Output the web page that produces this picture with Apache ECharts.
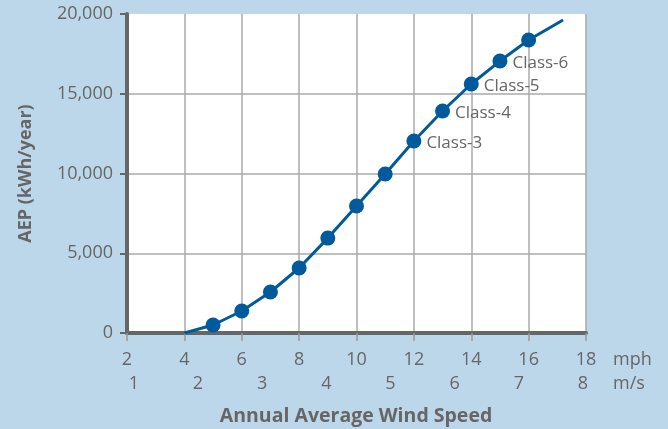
<!DOCTYPE html>
<html>
<head>
<meta charset="utf-8">
<script src="https://cdn.jsdelivr.net/npm/echarts@6/dist/echarts.min.js"></script>
<style>
html,body{margin:0;padding:0;background:#BDD7EA;}
#c{width:668px;height:429px;}
</style>
</head>
<body>
<div id="c"></div>
<script>
// Data
var speedsMph = [4, 5, 6, 7, 8, 9, 10, 11, 12, 13, 14, 15, 16, 17.2];
var aepValues = [0, 500, 1380, 2570, 4075, 5950, 7960, 9970, 12040, 13920, 15610, 17050, 18370, 19620];
var classNames = [null, null, null, null, null, null, null, null, 'Class-3', 'Class-4', 'Class-5', 'Class-6', null, null];
var hasMarker = [false, true, true, true, true, true, true, true, true, true, true, true, true, false];
var mphTicks = [2, 18, 2];           // min, max, interval
var msLabels = [1, 2, 3, 4, 5, 6, 7, 8];
var MPH_PER_MS = 2.23694;

var FONT = '"Open Sans", sans-serif';
var TXT = '#666666';
var LINE = '#005A9B';

var seriesData = speedsMph.map(function (x, i) {
  var d = { value: [x, aepValues[i]] };
  if (!hasMarker[i]) d.symbol = 'none';
  if (classNames[i]) {
    d.label = { show: true, formatter: classNames[i] };
  }
  return d;
});

var chart = echarts.init(document.getElementById('c'), null, { renderer: 'canvas' });
chart.setOption({
  backgroundColor: '#BDD7EA',
  animation: false,
  title: {
    text: 'Annual Average Wind Speed',
    left: 351,
    top: 401,
    textAlign: 'center',
    textStyle: { fontFamily: FONT, fontWeight: 'bold', fontSize: 19.5, color: TXT }
  },
  grid: {
    left: 127, right: 82, top: 14, bottom: 96,
    show: true, backgroundColor: '#ffffff', borderWidth: 0
  },
  xAxis: [
    {
      type: 'value',
      min: mphTicks[0], max: mphTicks[1], interval: mphTicks[2],
      position: 'bottom',
      name: 'mph',
      nameLocation: 'end',
      nameGap: 27,
      nameTextStyle: { fontFamily: FONT, fontSize: 18, color: TXT, verticalAlign: 'top', padding: [18, 0, 0, 0] },
      axisLine: { show: true, onZero: false, lineStyle: { color: '#666666', width: 4 } },
      axisTick: { show: true, length: 8, lineStyle: { color: '#999999', width: 1.5 } },
      axisLabel: { margin: 18, fontFamily: FONT, fontSize: 18, color: TXT },
      splitLine: { show: true, lineStyle: { color: '#aaaaaa', width: 1.5 } }
    },
    {
      type: 'value',
      min: mphTicks[0] / MPH_PER_MS, max: mphTicks[1] / MPH_PER_MS,
      position: 'bottom',
      name: 'm/s',
      nameLocation: 'end',
      nameGap: 27,
      nameTextStyle: { fontFamily: FONT, fontSize: 18, color: TXT, verticalAlign: 'top', padding: [42, 0, 0, 0] },
      axisLine: { show: false },
      axisTick: { show: false },
      axisLabel: { margin: 42, fontFamily: FONT, fontSize: 18, color: TXT, customValues: msLabels },
      splitLine: { show: false }
    }
  ],
  yAxis: {
    type: 'value',
    min: 0, max: 20000, interval: 5000,
    name: 'AEP (kWh/year)',
    nameLocation: 'middle',
    nameRotate: 90,
    nameGap: 92,
    nameTextStyle: { fontFamily: FONT, fontSize: 18, fontWeight: 'bold', color: TXT },
    axisLine: { show: true, lineStyle: { color: '#666666', width: 4 } },
    axisTick: { show: true, length: 7, lineStyle: { color: '#666666', width: 2 } },
    axisLabel: {
      margin: 14, fontFamily: FONT, fontSize: 18, color: TXT,
      formatter: function (v) { return v.toLocaleString('en-US'); }
    },
    splitLine: { show: true, showMaxLine: false, lineStyle: { color: '#aaaaaa', width: 1.5 } }
  },
  series: [{
    type: 'line',
    xAxisIndex: 0,
    data: seriesData,
    symbol: 'circle',
    symbolSize: 15,
    showAllSymbol: true,
    lineStyle: { color: LINE, width: 3 },
    itemStyle: { color: LINE },
    label: {
      show: false,
      position: 'right',
      distance: 5,
      offset: [0, 2],
      fontFamily: FONT, fontSize: 17, color: TXT
    }
  }]
});
</script>
</body>
</html>
